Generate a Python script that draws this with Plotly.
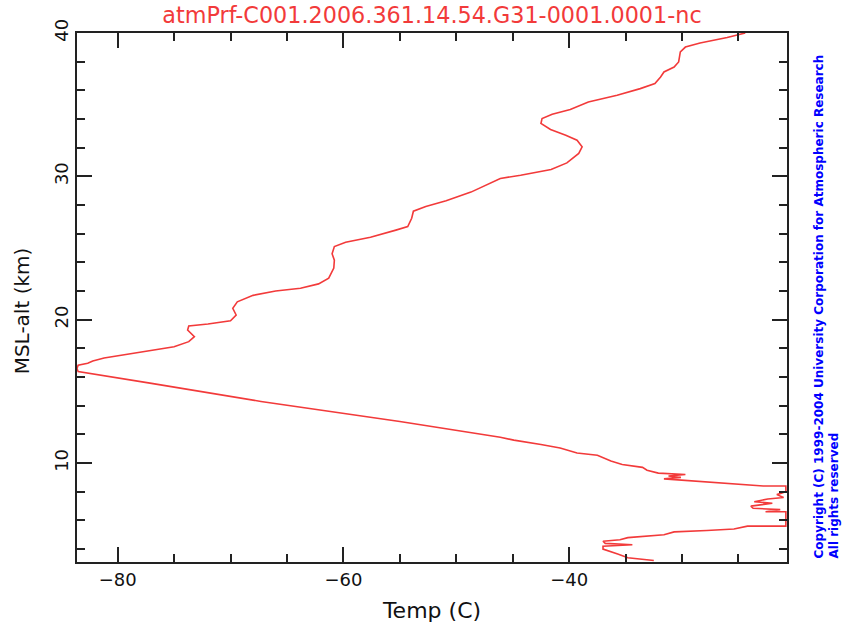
import plotly.graph_objects as go

# Temperature profile, bottom to top
altitude_km = [3.2, 3.4, 3.65, 4.0, 4.2, 4.3, 4.4, 4.55, 4.65, 4.8, 5.0, 5.2, 5.3, 5.4, 5.6, 5.6,
               6.6, 6.6, 6.75, 6.85, 7.0, 7.2, 7.3, 7.5, 7.6, 7.8, 8.0, 8.4, 8.4,
               8.6, 8.7, 8.8, 8.9, 9.0, 9.1, 9.2, 9.3, 9.5, 9.7, 9.9, 10.15, 10.55, 10.7,
               11.05, 11.3, 11.6, 11.8, 12.9, 14.3, 15.56, 16.38, 16.6, 16.83, 16.96, 17.12,
               17.33, 17.59, 17.89, 18.12, 18.47, 18.82, 19.28, 19.56, 19.70, 19.93, 20.33,
               20.8, 21.25, 21.7, 22.0, 22.2, 22.5, 22.9, 23.6, 24.15, 24.6, 25.1, 25.4,
               25.75, 26.25, 26.5, 27.08, 27.57, 27.9, 28.3, 28.9, 29.85, 30.08, 30.48,
               30.94, 31.6, 32.06, 32.52, 32.87, 33.27, 33.69, 34.03, 34.33, 34.66, 35.19,
               35.66, 36.12, 36.47, 36.93, 37.28, 37.63, 37.98, 38.68, 39.02, 39.3, 39.68, 40.0]
temp_c = [-32.5, -34.8, -35.7, -37.0, -37.0, -34.4, -36.8, -37.0, -35.5, -34.8, -31.6, -30.7, -27.8, -25.4, -24.2, -20.8,
          -20.8, -22.6, -21.3, -23.7, -23.9, -22.0, -23.6, -22.4, -21.0, -21.6, -20.8, -20.8, -22.8,
          -26.6, -28.5, -30.4, -31.6, -30.1, -31.2, -29.7, -32.1, -33.1, -33.5, -35.3, -36.3, -37.5, -39.3,
          -40.8, -42.5, -44.9, -46.1, -55.0, -67.3, -77.0, -83.5, -83.6, -83.5, -82.65, -82.2,
          -81.2, -79.1, -76.8, -75.0, -73.7, -73.2, -73.8, -73.7, -72.0, -70.0, -69.5,
          -69.8, -69.4, -68.0, -66.0, -63.8, -62.2, -61.3, -60.85, -60.8, -61.0, -60.8, -59.8,
          -57.6, -55.35, -54.3, -53.95, -53.8, -52.7, -50.9, -48.7, -46.1, -44.3, -41.6,
          -40.2, -39.15, -38.85, -39.3, -40.3, -41.65, -42.5, -42.4, -41.5, -39.9, -38.3,
          -35.75, -33.7, -32.4, -31.9, -31.6, -30.7, -30.3, -30.15, -29.7, -28.4, -26.0, -24.4]

title_text = "atmPrf-C001.2006.361.14.54.G31-0001.0001-nc"
x_title = "Temp (C)"
y_title = "MSL-alt (km)"
copyright_lines = ["Copyright (C) 1999-2004 University Corporation for Atmospheric Research",
                   "All rights reserved"]
x_range = [-83.6, -20.7]
y_range = [3.1, 40]

RED = "#f23a3a"
FONT = "DejaVu Sans"

fig = go.Figure()
fig.add_trace(go.Scatter(x=temp_c, y=altitude_km, mode="lines",
                         line=dict(color=RED, width=1.6), showlegend=False,
                         hoverinfo="skip"))

axis_common = dict(showgrid=False, zeroline=False, showline=True, linecolor="#222",
                   linewidth=2, mirror="allticks", ticks="inside", ticklen=15,
                   tickwidth=2, tickcolor="#222",
                   tickfont=dict(family=FONT, size=18, color="#111"))

fig.update_xaxes(range=x_range, dtick=20, tick0=-80,
                 minor=dict(dtick=5, tick0=-80, ticks="inside", ticklen=8,
                            tickwidth=2, tickcolor="#222"),
                 title=dict(text=x_title, font=dict(family=FONT, size=22, color="#111"),
                            standoff=14),
                 **axis_common)
fig.update_yaxes(range=y_range, dtick=10, tick0=0, tickangle=-90,
                 minor=dict(dtick=2, tick0=0, ticks="inside", ticklen=8,
                            tickwidth=2, tickcolor="#222"),
                 **axis_common)

fig.add_annotation(text=y_title, xref="paper", yref="paper", x=-0.078, y=0.475,
                   xanchor="center", yanchor="middle", textangle=-90, showarrow=False,
                   font=dict(family=FONT, size=20, color="#111"))

fig.add_annotation(text="<br>".join(copyright_lines), xref="paper", yref="paper",
                   x=1.0325, y=0.003, xanchor="left", yanchor="bottom", align="left",
                   textangle=-90, showarrow=False,
                   font=dict(family=FONT, size=12, color="#0000ff", weight="bold"))

fig.update_layout(
    width=845, height=632,
    margin=dict(l=77, r=58, t=33, b=70),
    paper_bgcolor="white", plot_bgcolor="white",
    title=dict(text=title_text, x=0.5, xref="paper", y=0.976, yanchor="middle",
               font=dict(family=FONT, size=22.3, color=RED)),
)

fig.write_html("out.html")
